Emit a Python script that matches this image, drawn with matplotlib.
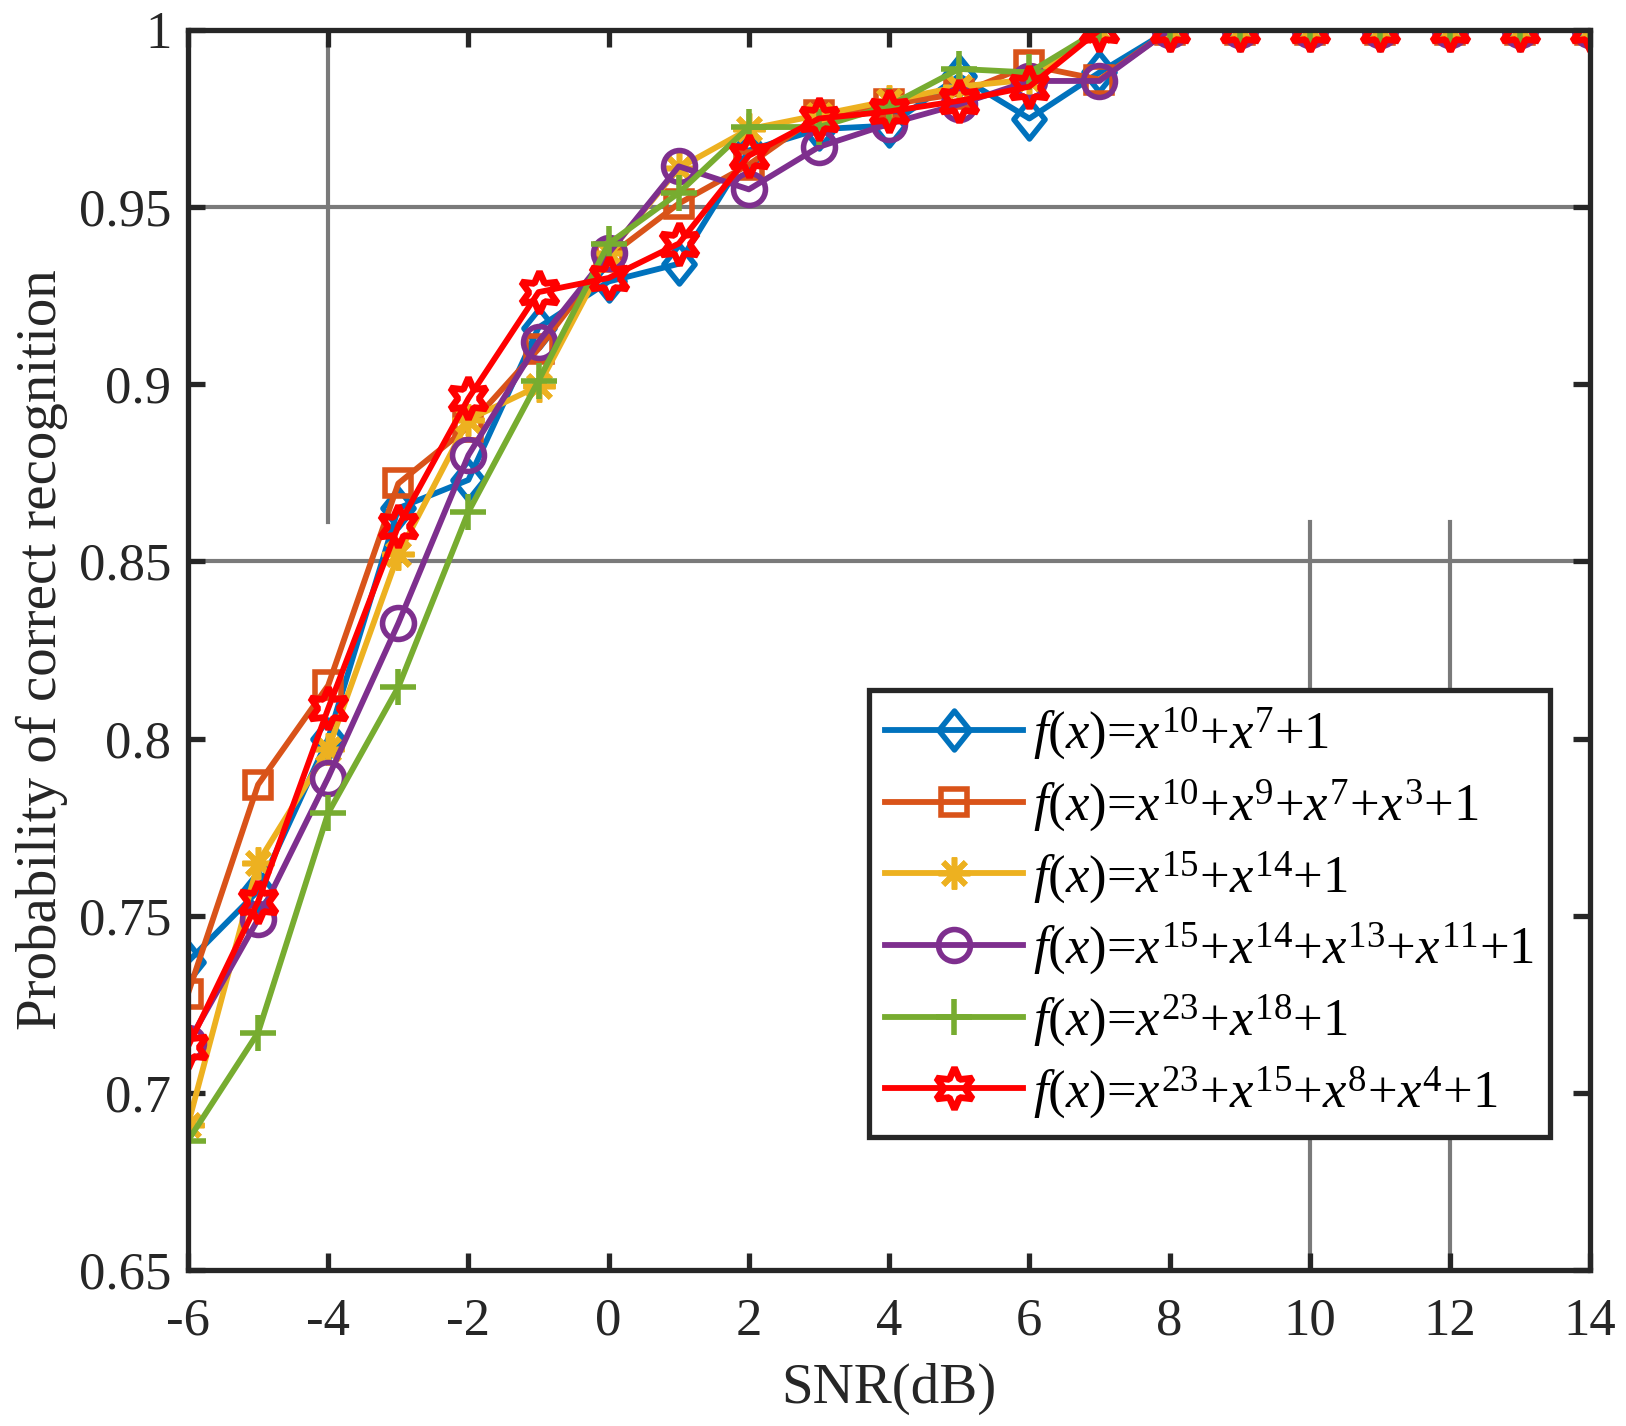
import numpy as np
import matplotlib
matplotlib.use("Agg")
import matplotlib.pyplot as plt
from matplotlib.path import Path

# SNR values and recognition probability for each generator polynomial
snr = [-6, -5, -4, -3, -2, -1, 0, 1, 2, 3, 4, 5, 6, 7, 8, 9, 10, 11, 12, 13, 14]
p_blue = [0.737, 0.757, 0.800, 0.865, 0.873, 0.916, 0.929, 0.934, 0.966, 0.972, 0.973,
          0.987, 0.975, 0.988, 1, 1, 1, 1, 1, 1, 1]
p_orange = [0.728, 0.787, 0.815, 0.872, 0.888, 0.910, 0.936, 0.951, 0.962, 0.976, 0.979,
            0.982, 0.990, 0.986, 1, 1, 1, 1, 1, 1, 1]
p_yellow = [0.691, 0.765, 0.797, 0.852, 0.890, 0.8995, 0.937, 0.961, 0.972, 0.976, 0.980,
            0.984, 0.986, 1.0, 1, 1, 1, 1, 1, 1, 1]
p_purple = [0.714, 0.749, 0.789, 0.8325, 0.880, 0.912, 0.937, 0.9615, 0.955, 0.967, 0.9735,
            0.979, 0.9856, 0.9856, 1, 1, 1, 1, 1, 1, 1]
p_green = [0.6865, 0.717, 0.779, 0.8145, 0.864, 0.901, 0.9397, 0.954, 0.9726, 0.9726, 0.9786,
           0.989, 0.988, 1.0, 1, 1, 1, 1, 1, 1, 1]
p_red = [0.713, 0.754, 0.8085, 0.860, 0.896, 0.926, 0.930, 0.9397, 0.9645, 0.975, 0.977,
         0.980, 0.984, 1.0, 1, 1, 1, 1, 1, 1, 1]

labels = [r'$f(x)$=$x^{10}$+$x^{7}$+1',
          r'$f(x)$=$x^{10}$+$x^{9}$+$x^{7}$+$x^{3}$+1',
          r'$f(x)$=$x^{15}$+$x^{14}$+1',
          r'$f(x)$=$x^{15}$+$x^{14}$+$x^{13}$+$x^{11}$+1',
          r'$f(x)$=$x^{23}$+$x^{18}$+1',
          r'$f(x)$=$x^{23}$+$x^{15}$+$x^{8}$+$x^{4}$+1']

plt.rcParams['font.family'] = ['Liberation Serif', 'DejaVu Serif']
plt.rcParams['mathtext.fontset'] = 'custom'
plt.rcParams['mathtext.rm'] = 'Liberation Serif'
plt.rcParams['mathtext.it'] = 'Liberation Serif:italic'
plt.rcParams['mathtext.bf'] = 'Liberation Serif:bold'
plt.rcParams['axes.unicode_minus'] = False

# matlab style diamond (wider than matplotlib's thin one)
diamond = Path([(0, 1), (0.8, 0), (0, -1), (-0.8, 0), (0, 1)],
               [Path.MOVETO, Path.LINETO, Path.LINETO, Path.LINETO, Path.CLOSEPOLY])

fig = plt.figure(figsize=(16.26, 14.26), dpi=100)
ax = fig.add_axes([0.1156, 0.1094, 0.8624, 0.8696])

# partial grid pieces as they appear in the original
grid_c = '#7a7a7a'
ax.axhline(0.95, color=grid_c, lw=3, zorder=1)
ax.axhline(0.85, color=grid_c, lw=3, zorder=1)
ax.axvline(-4, ymin=(0.861 - 0.65) / 0.35, ymax=(0.996 - 0.65) / 0.35, color=grid_c, lw=3, zorder=1)
ax.axvline(10, ymin=0, ymax=(0.861 - 0.65) / 0.35, color=grid_c, lw=3, zorder=1)
ax.axvline(12, ymin=0, ymax=(0.861 - 0.65) / 0.35, color=grid_c, lw=3, zorder=1)

lw = 4.2
mew = 4.0
ax.plot(snr, p_blue, color='#0072BD', lw=lw, marker=diamond, ms=28, mfc='none', mew=mew, label=labels[0])
ax.plot(snr, p_orange, color='#D95319', lw=lw, marker='s', ms=19, mfc='none', mew=mew, label=labels[1])
ax.plot(snr, p_yellow, color='#EDB120', lw=lw, marker=(8, 2, 0), ms=23, mew=mew, label=labels[2])
ax.plot(snr, p_purple, color='#7E2F8E', lw=lw, marker='o', ms=23, mfc='none', mew=mew, label=labels[3])
ax.plot(snr, p_green, color='#77AC30', lw=lw, marker='+', ms=26, mew=mew, label=labels[4])
ax.plot(snr, p_red, color='#FF0000', lw=lw, marker=(6, 1, 0), ms=30, mfc='none', mew=4.8, label=labels[5])

ax.set_xlim(-6, 14)
ax.set_ylim(0.65, 1)
ax.set_xticks(np.arange(-6, 15, 2))
ax.set_yticks(np.arange(0.65, 1.001, 0.05))
ax.set_yticklabels(['0.65', '0.7', '0.75', '0.8', '0.85', '0.9', '0.95', '1'])

for s in ax.spines.values():
    s.set_linewidth(3.8)
    s.set_color('#262626')
ax.tick_params(direction='in', length=12, width=3.8, labelsize=38, colors='#262626',
               top=True, right=True)
ax.tick_params(axis='x', pad=20)
ax.tick_params(axis='y', pad=12)

ax.set_xlabel('SNR(dB)', fontsize=41, color='#262626', labelpad=12)
ax.set_ylabel('Probability of correct recognition', fontsize=41, color='#262626', labelpad=8)

leg = ax.legend(loc='upper left', bbox_to_anchor=(0.486, 0.468), fontsize=38,
                handlelength=2.6, handletextpad=0.2, labelspacing=0.28,
                borderpad=0.3, borderaxespad=0, fancybox=False, framealpha=1,
                edgecolor='#262626')
leg.get_frame().set_linewidth(3.8)

fig.savefig('out.png', dpi=100)
